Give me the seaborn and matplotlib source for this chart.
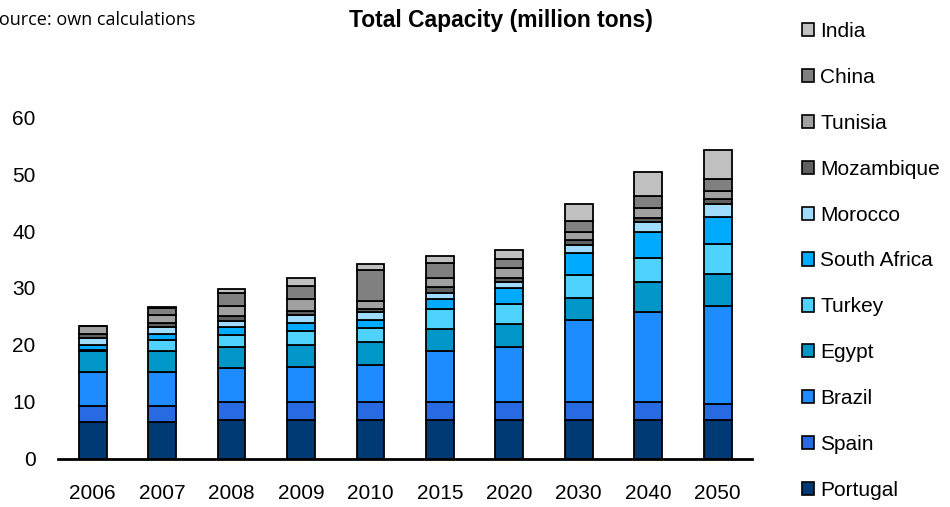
import pandas as pd
import matplotlib.pyplot as plt
import seaborn as sns
from matplotlib.patches import Patch
from matplotlib.ticker import FixedLocator

# 年份
years = ['2006', '2007', '2008', '2009', '2010', '2015', '2020', '2030', '2040', '2050']

# 各国产能 (million tons), 从下往上堆叠
portugal = [6.4, 6.4, 6.8, 6.8, 6.8, 6.8, 6.8, 6.8, 6.8, 6.8]
spain = [2.9, 2.9, 3.2, 3.2, 3.2, 3.2, 3.2, 3.2, 3.2, 2.9]
brazil = [5.9, 5.9, 5.9, 6.1, 6.5, 9.0, 9.7, 14.3, 15.8, 17.2]
egypt = [3.8, 3.8, 3.8, 3.9, 4.0, 3.8, 3.9, 3.9, 5.2, 5.6]
turkey = [0.1, 1.9, 2.1, 2.5, 2.4, 3.5, 3.6, 4.1, 4.2, 5.2]
south_africa = [0.9, 1.0, 1.4, 1.3, 1.4, 1.8, 2.8, 3.9, 4.6, 4.8]
morocco = [1.3, 1.3, 1.0, 1.5, 1.4, 1.1, 1.0, 1.4, 1.7, 2.2]
mozambique = [0.7, 0.6, 0.8, 0.6, 0.6, 0.9, 0.7, 0.9, 0.7, 0.9]
tunisia = [1.3, 1.4, 1.8, 2.1, 1.4, 1.6, 1.8, 1.3, 1.8, 1.5]
china = [0.1, 1.2, 2.4, 2.3, 5.4, 2.7, 1.6, 2.0, 2.1, 2.1]
india = [0.0, 0.2, 0.6, 1.5, 1.1, 1.2, 1.6, 3.0, 4.2, 5.0]

countries = ['Portugal', 'Spain', 'Brazil', 'Egypt', 'Turkey', 'South Africa',
             'Morocco', 'Mozambique', 'Tunisia', 'China', 'India']
values = [portugal, spain, brazil, egypt, turkey, south_africa,
          morocco, mozambique, tunisia, china, india]
colors = ['#003a75', '#286ae2', '#1e8cff', '#0096c8', '#50d2ff', '#00aaff',
          '#a0dcff', '#606060', '#a0a0a0', '#808080', '#c0c0c0']

df = pd.DataFrame(dict(zip(countries, values)))
df['year'] = years

sns.set_style('white')
plt.rcParams['font.family'] = ['Liberation Sans', 'DejaVu Sans']
plt.rcParams['text.color'] = 'black'
plt.rcParams['xtick.color'] = 'black'
plt.rcParams['ytick.color'] = 'black'

fig = plt.figure(figsize=(9.5, 5.07), dpi=100)
ax = fig.add_axes([0.061, 0.095, 0.731, 0.674])

# 堆叠柱状图
bottom = [0.0] * len(years)
for name, col in zip(countries, colors):
    sns.barplot(data=df, x='year', y=name, order=years, bottom=bottom, color=col,
                saturation=1, width=0.4, edgecolor='black', linewidth=1.3,
                errorbar=None, ax=ax)
    bottom = [b + v for b, v in zip(bottom, df[name])]

ax.set_ylim(0, 60)
ax.set_xlim(-0.5, len(years) - 0.5)
ax.set_xlabel('')
ax.set_ylabel('')
ax.set_yticks(range(0, 61, 10))
for s in ['top', 'right', 'left']:
    ax.spines[s].set_visible(False)
ax.spines['bottom'].set_color('black')
ax.spines['bottom'].set_linewidth(2)
ax.tick_params(axis='y', length=0, pad=16, labelsize=15, labelcolor='black')
ax.tick_params(axis='x', which='major', length=0, pad=18, labelsize=15, labelcolor='black')
ax.xaxis.set_minor_locator(FixedLocator([i - 0.5 for i in range(len(years) + 1)]))
ax.tick_params(axis='x', which='minor', length=6, width=2, color='black', direction='out')

# 标题与来源
fig.text(0.527, 0.96, 'Total Capacity (million tons)', ha='center', va='center',
         fontsize=16.5, fontweight='bold')
fig.text(-0.012, 0.96, 'Source: own calculations', ha='left', va='center',
         fontsize=13, family=['Open Sans', 'DejaVu Sans'])

# 图例 (倒序)
handles = [Patch(facecolor=c, edgecolor='black', linewidth=1.2) for c in colors]
fig.legend(handles[::-1], countries[::-1], loc='upper left', bbox_to_anchor=(0.835, 0.973),
           frameon=False, fontsize=15, handlelength=0.6, handleheight=0.6,
           handletextpad=0.3, labelspacing=1.29, borderaxespad=0, labelcolor='black')

fig.savefig('out.png', dpi=100)
